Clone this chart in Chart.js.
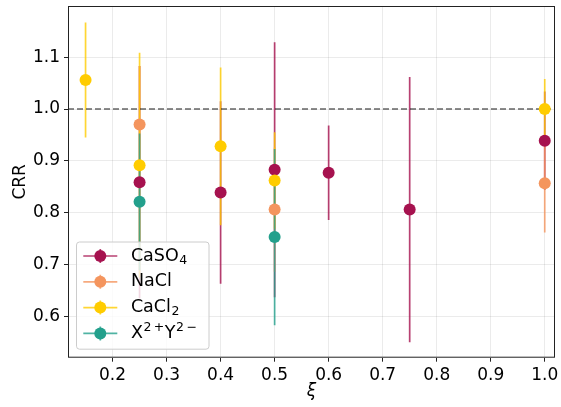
<!DOCTYPE html>
<html>
<head>
<meta charset="utf-8">
<script src="https://cdn.jsdelivr.net/npm/chart.js@4.4.1/dist/chart.umd.min.js"></script>
<style>
  body { margin: 0; background: #fff; }
  #wrap { width: 561px; height: 407px; }
</style>
</head>
<body>
<div id="wrap"><canvas id="chart" width="561" height="407"></canvas></div>
<script>
// series labels use _ for subscripts and ^ for superscripts
const seriesNames = ['CaSO_4', 'NaCl', 'CaCl_2', 'X^{2\u2009+}Y^{2\u2009\u2212}'];
const seriesColors = ['#a6124f', '#f4955e', '#ffcc00', '#23a08c'];

const xCaSO4 = [0.25, 0.4, 0.5, 0.6, 0.75, 1.0];
const yCaSO4 = [0.859, 0.839, 0.883, 0.877, 0.806, 0.939];
const errCaSO4 = [0.224, 0.176, 0.246, 0.091, 0.256, 0.095];

const xNaCl = [0.25, 0.5, 1.0];
const yNaCl = [0.970, 0.806, 0.857];
const errNaCl = [0.113, 0.12, 0.095];

const xCaCl2 = [0.15, 0.25, 0.4, 0.5, 1.0];
const yCaCl2 = [1.056, 0.8915, 0.928, 0.862, 1.0];
const errCaCl2 = [0.111, 0.217, 0.152, 0.093, 0.058];

const xXY = [0.25, 0.5];
const yXY = [0.821, 0.753];
const errXY = [0.132, 0.170];

const xTicks = [0.2, 0.3, 0.4, 0.5, 0.6, 0.7, 0.8, 0.9, 1.0];
const yTicks = [0.6, 0.7, 0.8, 0.9, 1.0, 1.1];
const refLine = 1.0;

const FONT = 'DejaVu Sans';

function toPoints(xs, ys, errs) {
    var pts = [];
    for (let i = 0; i < xs.length; i++) {
        pts.push({ x: xs[i], y: ys[i], err: errs[i] });
    }
    return pts;
}

function withAlpha(hex, a) {
    const n = parseInt(hex.slice(1), 16);
    return 'rgba(' + (n >> 16) + ',' + ((n >> 8) & 255) + ',' + (n & 255) + ',' + a + ')';
}

function labelParts(s) {
    const parts = [];
    let i = 0;
    while (i < s.length) {
        const c = s[i];
        if (c === '_' || c === '^') {
            let t;
            if (s[i + 1] === '{') {
                const j = s.indexOf('}', i);
                t = s.slice(i + 2, j);
                i = j + 1;
            } else {
                t = s[i + 1];
                i += 2;
            }
            parts.push({ t: t, shift: c === '_' ? 1 : -1 });
        } else {
            let j = i;
            while (j < s.length && s[j] !== '_' && s[j] !== '^') j++;
            parts.push({ t: s.slice(i, j), shift: 0 });
            i = j;
        }
    }
    return parts;
}

const seriesData = [
    toPoints(xCaSO4, yCaSO4, errCaSO4),
    toPoints(xNaCl, yNaCl, errNaCl),
    toPoints(xCaCl2, yCaCl2, errCaCl2),
    toPoints(xXY, yXY, errXY),
];

// vertical error bars + dashed reference line, under the markers
const errorBars = {
    id: 'errorBars',
    beforeDatasetsDraw(chart) {
        const { ctx, chartArea: a, scales: { x, y } } = chart;
        ctx.save();
        ctx.beginPath();
        ctx.rect(a.left, a.top, a.right - a.left, a.bottom - a.top);
        ctx.clip();
        ctx.lineWidth = 1.7;
        seriesData.forEach((pts, k) => {
            ctx.strokeStyle = withAlpha(seriesColors[k], 0.8);
            pts.forEach(p => {
                const px = x.getPixelForValue(p.x);
                ctx.beginPath();
                ctx.moveTo(px, y.getPixelForValue(p.y - p.err));
                ctx.lineTo(px, y.getPixelForValue(p.y + p.err));
                ctx.stroke();
            });
        });
        const ry = y.getPixelForValue(refLine);
        ctx.strokeStyle = 'rgba(0,0,0,0.6)';
        ctx.lineWidth = 1.6;
        ctx.setLineDash([6, 3]);
        ctx.beginPath();
        ctx.moveTo(a.left, ry);
        ctx.lineTo(a.right, ry);
        ctx.stroke();
        ctx.restore();
    }
};

// axes frame and legend box on top
const frameAndLegend = {
    id: 'frameAndLegend',
    afterDraw(chart) {
        const { ctx, chartArea: a } = chart;
        ctx.save();
        ctx.strokeStyle = '#222';
        ctx.lineWidth = 1;
        ctx.strokeRect(a.left + 0.5, a.top + 0.5, a.right - a.left - 1, a.bottom - a.top - 1);

        const bx = a.left + 8.5, by = 242, bw = 132.5, bh = a.bottom - 8.5 - 242;
        ctx.beginPath();
        ctx.roundRect(bx, by, bw, bh, 3);
        ctx.fillStyle = 'rgba(255,255,255,0.8)';
        ctx.fill();
        ctx.strokeStyle = '#cccccc';
        ctx.stroke();

        const hx0 = bx + 6.8, hx1 = hx0 + 34, hc = (hx0 + hx1) / 2;
        seriesNames.forEach((name, k) => {
            const ry = 256 + k * 25.8;
            ctx.strokeStyle = withAlpha(seriesColors[k], 0.8);
            ctx.lineWidth = 1.7;
            ctx.beginPath();
            ctx.moveTo(hx0, ry);
            ctx.lineTo(hx1, ry);
            ctx.moveTo(hc, ry - 7);
            ctx.lineTo(hc, ry + 7);
            ctx.stroke();
            ctx.fillStyle = seriesColors[k];
            ctx.beginPath();
            ctx.arc(hc, ry, 6, 0, Math.PI * 2);
            ctx.fill();

            let tx = hx1 + 13.6;
            ctx.fillStyle = '#000';
            ctx.textBaseline = 'middle';
            ctx.textAlign = 'left';
            labelParts(name).forEach(p => {
                if (p.shift === 0) {
                    ctx.font = '17.5px "' + FONT + '"';
                    ctx.fillText(p.t, tx, ry);
                } else {
                    ctx.font = '12.5px "' + FONT + '"';
                    ctx.fillText(p.t, tx + 0.5, ry + (p.shift > 0 ? 4.5 : -6));
                }
                tx += ctx.measureText(p.t).width + (p.shift === 0 ? 0 : 1);
            });
        });
        ctx.restore();
    }
};

const config = {
    type: 'scatter',
    data: {
        datasets: seriesData.map((pts, k) => ({
            label: seriesNames[k],
            data: pts,
            backgroundColor: seriesColors[k],
            borderWidth: 0,
            pointRadius: 6,
            pointHoverRadius: 6,
            order: seriesData.length - k,
        })),
    },
    options: {
        responsive: false,
        animation: false,
        events: [],
        layout: { padding: { top: 5, right: 2.3, left: 0, bottom: 0 } },
        plugins: { legend: { display: false }, tooltip: { enabled: false } },
        scales: {
            x: {
                type: 'linear',
                min: 0.1175,
                max: 1.019,
                afterBuildTicks: s => { s.ticks = xTicks.map(v => ({ value: v })); },
                afterFit: s => { s.height = 49.3; s.paddingLeft = 0; s.paddingRight = 0; },
                grid: { color: 'rgba(0,0,0,0.08)', tickColor: '#222', tickLength: 4 },
                border: { display: false },
                ticks: {
                    color: '#000',
                    font: { family: FONT, size: 17 },
                    padding: 4,
                    maxRotation: 0,
                    autoSkip: false,
                    callback: v => v.toFixed(1),
                },
                title: {
                    display: true,
                    text: 'ξ',
                    color: '#000',
                    font: { family: FONT, size: 17, style: 'italic' },
                    padding: { top: 0, bottom: 5 },
                },
            },
            y: {
                type: 'linear',
                min: 0.5204,
                max: 1.1987,
                afterBuildTicks: s => { s.ticks = yTicks.map(v => ({ value: v })); },
                afterFit: s => { s.width = 68; s.paddingTop = 0; s.paddingBottom = 0; },
                grid: { color: 'rgba(0,0,0,0.08)', tickColor: '#222', tickLength: 4 },
                border: { display: false },
                ticks: {
                    color: '#000',
                    font: { family: FONT, size: 17 },
                    padding: 4,
                    autoSkip: false,
                    callback: v => v.toFixed(1),
                },
                title: {
                    display: true,
                    text: 'CRR',
                    color: '#000',
                    font: { family: FONT, size: 17 },
                    padding: { top: 10, bottom: 0 },
                },
            },
        },
    },
    plugins: [errorBars, frameAndLegend],
};

new Chart(document.getElementById('chart'), config);
</script>
</body>
</html>
